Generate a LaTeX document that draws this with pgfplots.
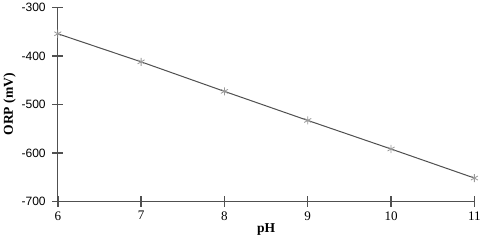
\documentclass[border=0pt]{standalone}
\usepackage{fontspec}
\setmainfont{Liberation Serif}
\newfontfamily\ysans{Liberation Sans}
\usepackage{pgfplots}
\pgfplotsset{compat=1.18}
\definecolor{axgray}{RGB}{80,80,80}
\begin{document}
\begin{tikzpicture}
\begin{axis}[
  scale only axis,
  width=413bp, height=192bp,
  xmin=6, xmax=11, ymin=-700, ymax=-300,
  axis x line*=bottom, axis y line*=left,
  axis line style={draw=axgray, line width=1bp},
  xtick={6,7,8,9,10,11},
  ytick={-700,-600,-500,-400,-300},
  tick align=center,
  major tick length=11bp,
  major tick style={draw=axgray, line width=1.4bp},
  xticklabels={6,7,8,9,10,11},
  yticklabels={-700,-600,-500,-400,-300},
  xticklabel style={font=\fontsize{13}{15}\selectfont, yshift=-1bp},
  yticklabel style={font=\ysans\fontsize{12}{14}\selectfont, xshift=-3bp},
  xlabel={\textbf{pH}},
  ylabel={\textbf{ORP (mV)}},
  label style={font=\fontsize{13.5}{15}\selectfont},
  xlabel style={yshift=3bp},
  ylabel style={yshift=-1bp},
  clip=false,
]
\addplot[color=axgray, line width=1bp, mark=asterisk, mark size=4bp,
  mark options={color=black!40, line width=0.8bp}]
  coordinates {(6,-354) (7,-412) (8,-473) (9,-533) (10,-592) (11,-652)};
\end{axis}
\end{tikzpicture}
\end{document}
